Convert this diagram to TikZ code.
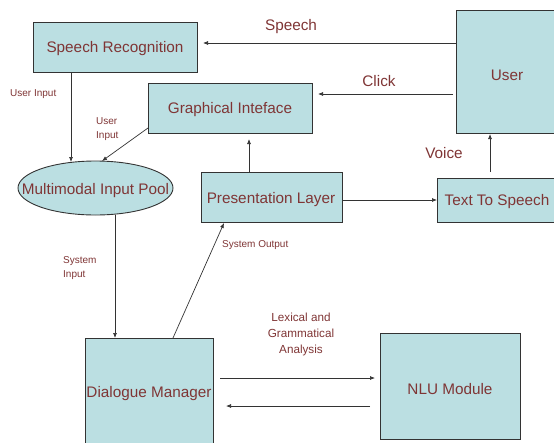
\documentclass[tikz,border=0pt]{standalone}
\usepackage{fontspec}
\setmainfont{Liberation Sans}
\usetikzlibrary{arrows.meta,shapes.geometric}
\definecolor{boxfill}{HTML}{BBDFE2}
\definecolor{txt}{HTML}{7F3535}
\definecolor{ln}{HTML}{333333}
\tikzset{
  box/.style={draw=ln, line width=0.9pt, fill=boxfill, text=txt, inner sep=0pt, anchor=north west},
  big/.style={text=txt, font=\fontsize{15.3}{17}\selectfont, inner sep=0pt, yshift=-2pt},
  small/.style={text=txt, font=\fontsize{10}{14}\selectfont, inner sep=0pt, align=left},
  conn/.style={draw=ln, line width=0.7pt, -{Latex[length=5pt,width=4pt]}},
}
\begin{document}
\begin{tikzpicture}[x=1pt,y=-1pt]
\useasboundingbox (0,0) rectangle (554,442);
\begin{scope}
\clip (0,0) rectangle (554,442);
% boxes
\node[box, minimum width=164pt, minimum height=50pt] (sr) at (33,22) {};
\node[big] at (115,47) {Speech Recognition};
\node[box, minimum width=164pt, minimum height=50pt] (gi) at (148,83) {};
\node[big] at (230,108) {Graphical Inteface};
\node[draw=ln, line width=0.9pt, fill=boxfill, ellipse, minimum width=155pt, minimum height=54pt, inner sep=0pt] (pool) at (95.5,188) {};
\node[big] at (95.5,189) {Multimodal Input Pool};
\node[box, minimum width=141pt, minimum height=50pt] (pl) at (201,172) {};
\node[big] at (271,198) {Presentation Layer};
\node[box, minimum width=103pt, minimum height=123pt] (user) at (456,10) {};
\node[big] at (507,73) {User};
\node[box, minimum width=122pt, minimum height=44pt] (tts) at (437,178) {};
\node[big] at (497,200) {Text To Speech};
\node[box, minimum width=128pt, minimum height=110pt] (dm) at (85,338) {};
\node[big] at (149,392) {Dialogue Manager};
\node[box, minimum width=140pt, minimum height=106pt] (nlu) at (380,333) {};
\node[big] at (450,387) {NLU Module};
% connectors
\coordinate (uS) at (456,43); \coordinate (srE) at (203,43);
\draw[conn] (uS) -- (srE);
\coordinate (uC) at (453,94); \coordinate (giE) at (318,94);
\draw[conn] (uC) -- (giE);
\coordinate (ttsT) at (490,172); \coordinate (userB) at (490,134);
\draw[conn] (ttsT) -- (userB);
\coordinate (plE) at (342,200); \coordinate (ttsW) at (437,200);
\draw[conn] (plE) -- (ttsW);
\coordinate (plT) at (249,172); \coordinate (giB) at (249,139);
\draw[conn] (plT) -- (giB);
\coordinate (srB) at (71,72); \coordinate (poolT1) at (71,162);
\draw[conn] (srB) -- (poolT1);
\coordinate (giL) at (148,128); \coordinate (poolT2) at (102,161);
\draw[conn] (giL) -- (poolT2);
\coordinate (poolB) at (115,215); \coordinate (dmT) at (115,338);
\draw[conn] (poolB) -- (dmT);
\coordinate (dmT2) at (173,338); \coordinate (plB) at (224,223);
\draw[conn] (dmT2) -- (plB);
\coordinate (dmR1) at (220,378); \coordinate (nluL1) at (375,378);
\draw[conn] (dmR1) -- (nluL1);
\coordinate (nluL2) at (370,406); \coordinate (dmR2) at (226,406);
\draw[conn] (nluL2) -- (dmR2);
% labels
\node[big] (lspeech) at (291,25) {Speech};
\node[big, yshift=2pt] (lclick) at (379,81) {Click};
\node[big, yshift=2pt] (lvoice) at (444,153) {Voice};
\node[small, anchor=west] (lui1) at (10,94) {User Input};
\node[small, anchor=west] (lui2) at (96,129) {User\\Input};
\node[small, anchor=west] (lsi) at (63,268) {System\\Input};
\node[small, anchor=west] (lso) at (222,245) {System Output};
\node[text=txt, font=\fontsize{11.7}{16}\selectfont, inner sep=0pt, align=center] (llex) at (301,334) {Lexical and\\Grammatical\\Analysis};
\end{scope}
\end{tikzpicture}
\end{document}
